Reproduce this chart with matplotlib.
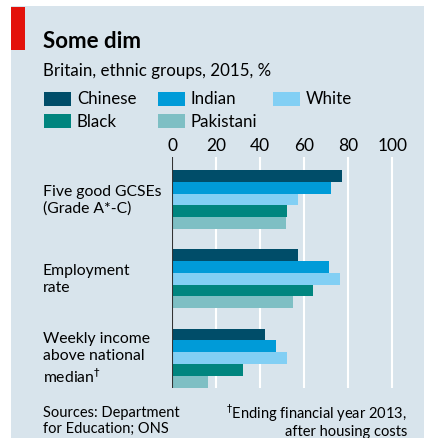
import matplotlib
matplotlib.use("Agg")
import matplotlib.pyplot as plt
from matplotlib.patches import Rectangle
from matplotlib.transforms import blended_transform_factory

# data
categories = ["Five good GCSEs\n(Grade A*-C)", "Employment\nrate", "Weekly income\nabove national\nmedian$^{\\dagger}$"]
groups = ["Chinese", "Indian", "White", "Black", "Pakistani"]
chinese = [77, 57, 42]
indian = [72, 71, 47]
white = [57, 76, 52]
black = [52, 64, 32]
pakistani = [51.5, 55, 16]
series = [chinese, indian, white, black, pakistani]
colours = ["#004d69", "#009bd8", "#82cff4", "#00857f", "#7ebfc4"]
xticks = [0, 20, 40, 60, 80, 100]

plt.rcParams["font.family"] = ["Lato", "DejaVu Sans"]

W, H = 424, 439
fig = plt.figure(figsize=(W / 100, H / 100), dpi=100)
fig.patch.set_facecolor("white")

def fx(px):
    return px / W

def fy(py):
    return 1 - py / H

bg = "#d8e4ec"
fig.patches.append(Rectangle((fx(11), 0), 1 - fx(11), fy(7), transform=fig.transFigure,
                             facecolor=bg, edgecolor="none", zorder=-5))
fig.patches.append(Rectangle((fx(11), fy(51)), fx(14), fy(8) - fy(51), transform=fig.transFigure,
                             facecolor="#e3120b", edgecolor="none", zorder=-4))

fig.text(fx(43), fy(42), "Some dim", fontsize=16, fontweight="bold", va="center", ha="left")
fig.text(fx(43), fy(71), "Britain, ethnic groups, 2015, %", fontsize=12.2, va="center", ha="left")

# legend
leg_x = [44, 158, 273]
leg_y = [99.5, 122]
for k, name in enumerate(groups):
    col = k % 3
    row = k // 3
    fig.patches.append(Rectangle((fx(leg_x[col]), fy(leg_y[row] + 7)), fx(27), fy(0) - fy(14),
                                 transform=fig.transFigure, facecolor=colours[k], edgecolor="none"))
    fig.text(fx(leg_x[col] + 33), fy(leg_y[row]), name, fontsize=12.2, va="center", ha="left")

# bars
ax = fig.add_axes([fx(172.3), fy(389), 110 * 2.2 / W, (389 - 158) / H])
ax.set_zorder(2)
ax.set_facecolor("none")
bh = 11.8 / 79.5
for j, vals in enumerate(series):
    ys = [i + (j - 2) * bh for i in range(len(categories))]
    ax.barh(ys, vals, height=bh, color=colours[j], zorder=2)
ax.set_xlim(0, 110)
ax.set_ylim(2 + 30 / 79.5, -42.5 / 79.5)
ax.set_xticks(xticks)
ax.xaxis.tick_top()
ax.tick_params(axis="x", length=0, labelsize=12.5, pad=3)
ax.set_yticks([])
for s in ax.spines.values():
    s.set_visible(False)
for t in xticks[1:]:
    ax.axvline(t, color="white", lw=1.5, zorder=1)
ax.axvline(0, color="#333333", lw=1.5, zorder=3)

trans = blended_transform_factory(fig.transFigure, ax.transData)
for i, cat in enumerate(categories):
    fig.text(fx(43), i, cat, transform=trans, fontsize=11.3, va="center", ha="left", linespacing=1.25)

fig.text(fx(43), fy(421), "Sources: Department\nfor Education; ONS", fontsize=10.5, va="center", ha="left",
         linespacing=1.1)
fig.text(fx(407), fy(421), "$^{\\dagger}$Ending financial year 2013,\nafter housing costs", fontsize=10.5,
         va="center", ha="right", multialignment="right", linespacing=1.1)

fig.savefig("out.png", dpi=100, facecolor="white")
